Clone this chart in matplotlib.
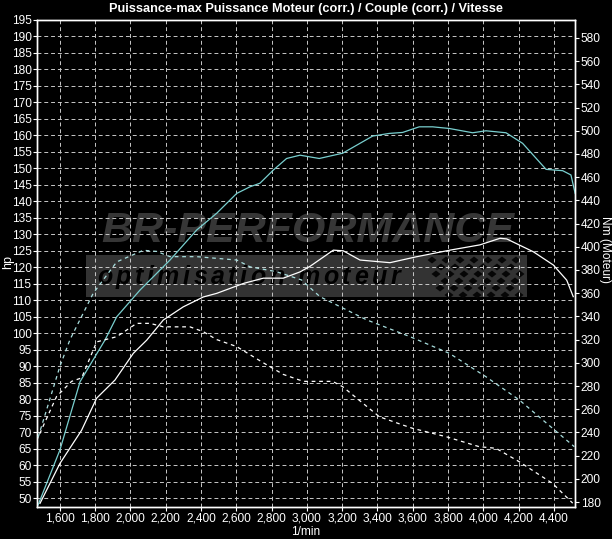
import matplotlib
matplotlib.use("Agg")
import matplotlib.pyplot as plt
from matplotlib import font_manager
from matplotlib.patches import Rectangle, Polygon
from matplotlib.ticker import FuncFormatter

# power tuned (hp) - cyan solid
rpm_pw_tuned = [1476, 1600, 1714, 1855, 1922, 2054, 2224, 2375, 2489, 2602, 2677, 2734,
                2810, 2885, 2961, 3070, 3203, 3373, 3467, 3543, 3637, 3713, 3807, 3940,
                4015, 4129, 4223, 4356, 4450, 4497, 4521]
hp_tuned = [47.9, 64.6, 85.3, 97.9, 105.0, 113.1, 122.2, 131.3, 136.4, 142.4, 144.4, 145.5,
            149.5, 153.0, 154.0, 153.0, 154.6, 159.8, 160.6, 160.9, 162.6, 162.6, 162.1, 160.8,
            161.4, 160.8, 157.6, 149.7, 149.3, 148.0, 142.4]

# power stock (hp) - white solid
rpm_pw_stock = [1487, 1600, 1723, 1808, 1912, 2016, 2092, 2186, 2299, 2413, 2489, 2640,
                2753, 2866, 2961, 3018, 3150, 3206, 3301, 3471, 3622, 3811, 3981, 4095,
                4133, 4284, 4397, 4473, 4510]
hp_stock = [48.4, 60.5, 70.6, 80.3, 85.8, 93.9, 97.9, 104.0, 108.0, 111.0, 112.1, 115.1,
            116.7, 116.7, 118.6, 120.3, 125.2, 125.0, 122.2, 121.4, 123.2, 125.2, 126.8, 128.8,
            128.6, 124.7, 120.7, 116.1, 111.1]

# torque tuned (Nm) - cyan dashed
rpm_tq_tuned = [1477, 1600, 1657, 1789, 1922, 2073, 2149, 2224, 2375, 2602, 2677, 2829,
                2970, 3074, 3339, 3585, 3807, 4015, 4204, 4393, 4516]
nm_tuned = [236, 297, 320, 360, 387, 397, 396, 391.5, 391.5, 388.6, 382.8, 378.5,
            371.4, 357, 337, 322.5, 308.2, 288, 268, 243.5, 227.7]

# torque stock (Nm) - white dashed
rpm_tq_stock = [1468, 1581, 1666, 1723, 1808, 1922, 2035, 2111, 2186, 2337, 2413, 2489,
                2602, 2753, 2866, 2980, 3146, 3203, 3411, 3543, 3600, 3789, 3977, 4072,
                4204, 4393, 4507]
nm_stock = [233, 271, 284, 287, 318, 322.5, 334, 334, 331, 331, 326.8, 320,
            314, 300, 290, 284, 284, 279.4, 253.5, 246.4, 243.5, 236.3, 227.7, 226.3,
            214.7, 196, 179]

title = "Puissance-max Puissance Moteur (corr.) / Couple (corr.) / Vitesse"

names = {f.name for f in font_manager.fontManager.ttflist}
FONT = "Liberation Sans Narrow" if "Liberation Sans Narrow" in names else "Liberation Sans"
plt.rcParams['font.family'] = [FONT, 'DejaVu Sans']

W, H = 612, 539
fig = plt.figure(figsize=(W / 100, H / 100), dpi=100, facecolor='black')


def fx(x):
    return x / W


def fy(y):
    return 1 - y / H


ax = fig.add_axes([fx(37), fy(507), (575 - 37) / W, (507 - 20) / H])
ax.set_facecolor('black')
ax2 = ax.twinx()

ax.set_xlim(1470, 4520)
ax.set_ylim(47.3, 195)
ax2.set_ylim(175.7, 595.5)

for a in (ax, ax2):
    for s in a.spines.values():
        s.set_color('white')
        s.set_linewidth(1)

ax.set_yticks(range(50, 196, 5))
ax2.set_yticks(range(180, 581, 20))
ax.set_xticks(range(1600, 4401, 200))
ax.xaxis.set_major_formatter(FuncFormatter(lambda v, p: f"{int(v):,}"))

ax.tick_params(colors='white', labelsize=8.6, length=3, width=0.8, pad=1)
ax2.tick_params(colors='white', labelsize=8.6, length=3, width=0.8, pad=1)

ax.grid(True, color='#c8c8c8', linestyle=(0, (4, 3)), linewidth=0.7)
ax.set_axisbelow(True)

# watermark
ax.add_patch(Rectangle((fx(86), fy(297)), fx(527) - fx(86), fy(255) - fy(297),
                       transform=fig.transFigure, facecolor='#333333', edgecolor='none',
                       zorder=0.3))
ax.text(fx(308), fy(231), "BR-PERFORMANCE", transform=fig.transFigure, ha='center',
        va='center', fontsize=31, fontweight='heavy', style='italic', color='#363636',
        family='Liberation Sans', zorder=0.4)

# spaced lettering of the band text
renderer = fig.canvas.get_renderer()
word = "optimisation moteur"
x_start, x_end = 97, 400
pieces = []
widths = []
for ch in word:
    t = ax.text(0, 0, ch, transform=fig.transFigure, ha='left', va='center',
                fontsize=18, fontweight='bold', style='italic', color='black',
                family='Liberation Sans', zorder=0.4)
    bb = t.get_window_extent(renderer)
    pieces.append(t)
    widths.append(bb.width if ch != ' ' else 6)
gap = (x_end - x_start - sum(widths)) / (len(word) - 1)
xpos = x_start
for t, w in zip(pieces, widths):
    t.set_position((fx(xpos), fy(277)))
    xpos += w + gap

cell = 7
for i in range(13):
    for j in range(6):
        if (i + j) % 2:
            continue
        cx = 432 + i * cell + j * 2
        cy = 260 + j * cell
        if cx > 522:
            continue
        pts = [(cx, cy - cell / 2), (cx + cell / 2 + 1, cy), (cx, cy + cell / 2),
               (cx - cell / 2 - 1, cy)]
        ax.add_patch(Polygon([(fx(a), fy(b)) for a, b in pts], closed=True,
                             transform=fig.transFigure, facecolor='#060606',
                             edgecolor='none', zorder=0.4))

cyan = '#79cfcf'
ax.plot(rpm_pw_tuned, hp_tuned, color=cyan, lw=0.9, zorder=3)
ax.plot(rpm_pw_stock, hp_stock, color='white', lw=0.9, zorder=3)
ax2.plot(rpm_tq_tuned, nm_tuned, color='#a8dede', lw=0.9, linestyle=(0, (3, 3)), zorder=3)
ax2.plot(rpm_tq_stock, nm_stock, color='white', lw=0.9, linestyle=(0, (3, 3)), zorder=3)

fig.text(fx(306), fy(9), title, ha='center', va='center', color='white',
         fontsize=9.2, fontweight='bold')
fig.text(fx(8), fy(262), "hp", ha='center', va='center', color='white', fontsize=9,
         rotation=90)
fig.text(fx(605), fy(250), "Nm (Moteur)", ha='center', va='center', color='white',
         fontsize=8.6, rotation=-90)
fig.text(fx(306), fy(532), "1/min", ha='center', va='center', color='white', fontsize=8.6)

fig.savefig("out.png", dpi=100, facecolor='black')
